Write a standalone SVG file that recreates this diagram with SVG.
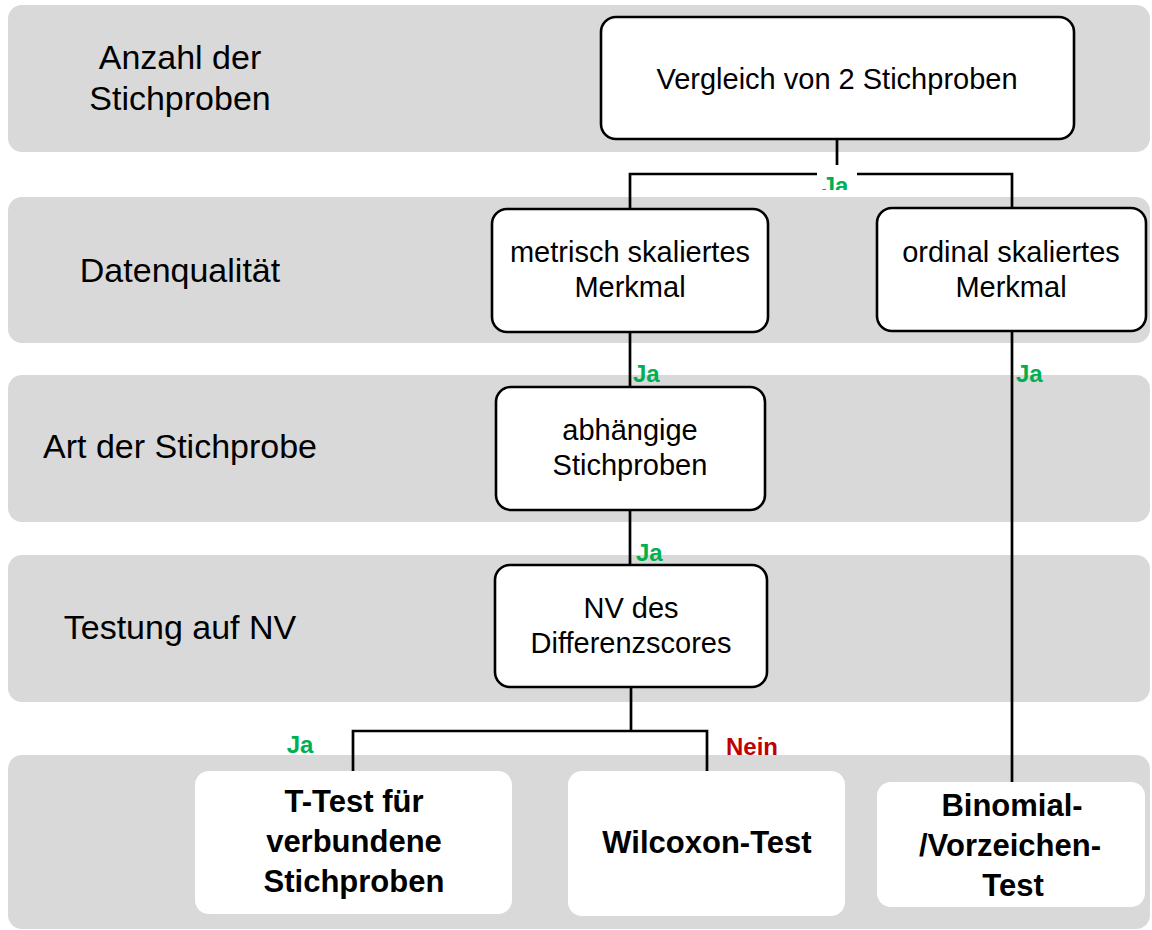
<svg xmlns="http://www.w3.org/2000/svg" width="1152" height="930" viewBox="0 0 1152 930">
<defs>
<style>
.band{fill:#d9d9d9}
.box{fill:#fff;stroke:#000;stroke-width:2.6}
.res{fill:#fff}
.lbl{font-family:"Liberation Sans",Arial,sans-serif;font-size:34px;fill:#000;text-anchor:middle}
.txt{font-family:"Liberation Sans",Arial,sans-serif;font-size:29px;fill:#000;text-anchor:middle}
.bold{font-family:"Liberation Sans",Arial,sans-serif;font-size:31px;font-weight:bold;fill:#000;text-anchor:middle}
.ja{font-family:"Liberation Sans",Arial,sans-serif;font-size:24px;font-weight:bold;fill:#00b050}
.nein{font-family:"Liberation Sans",Arial,sans-serif;font-size:24px;font-weight:bold;fill:#c00000}
.con{fill:none;stroke:#000;stroke-width:2.7}
</style>
<clipPath id="jaclip"><rect x="817" y="165" width="40" height="25"/></clipPath>
</defs>
<rect width="1152" height="930" fill="#fff"/>
<g id="bands">
<rect class="band" x="8" y="5" width="1142" height="147" rx="14"/>
<rect class="band" x="8" y="197" width="1142" height="146" rx="14"/>
<rect class="band" x="8" y="375" width="1142" height="147" rx="14"/>
<rect class="band" x="8" y="555" width="1142" height="147" rx="14"/>
<rect class="band" x="8" y="755" width="1142" height="174" rx="14"/>
</g>
<g id="row-labels">
<text class="lbl" x="180" y="69">Anzahl der</text>
<text class="lbl" x="180" y="110">Stichproben</text>
<text class="lbl" x="180" y="282">Datenqualität</text>
<text class="lbl" x="180" y="458">Art der Stichprobe</text>
<text class="lbl" x="180" y="639">Testung auf NV</text>
</g>
<g id="connectors">
<path class="con" d="M837 139 V174 M630 208 V174 H1012 V208"/>
<path class="con" d="M630 332 V387"/>
<path class="con" d="M1012 331 V782"/>
<path class="con" d="M630 510 V565"/>
<path class="con" d="M631 687 V731 M353 771 V731 H707 V771"/>
</g>
<g id="edge-labels">
<rect x="817" y="165" width="40" height="25" fill="#fff"/>
<text class="ja" x="835" y="194" text-anchor="middle" clip-path="url(#jaclip)">Ja</text>
<text class="ja" x="633" y="382">Ja</text>
<text class="ja" x="1016" y="382">Ja</text>
<text class="ja" x="636" y="561">Ja</text>
<text class="ja" x="300" y="753" text-anchor="middle">Ja</text>
<text class="nein" x="752" y="755" text-anchor="middle">Nein</text>
</g>
<g id="n-vergleich">
<rect class="box" x="601" y="17" width="473" height="122" rx="15"/>
<text class="txt" x="837" y="89">Vergleich von 2 Stichproben</text>
</g>
<g id="n-metrisch">
<rect class="box" x="492" y="209" width="276" height="123" rx="15"/>
<text class="txt" x="630" y="262">metrisch skaliertes</text>
<text class="txt" x="630" y="297">Merkmal</text>
</g>
<g id="n-ordinal">
<rect class="box" x="877" y="208" width="269" height="123" rx="15"/>
<text class="txt" x="1011" y="262">ordinal skaliertes</text>
<text class="txt" x="1011" y="297">Merkmal</text>
</g>
<g id="n-abhaengig">
<rect class="box" x="496" y="387" width="269" height="123" rx="15"/>
<text class="txt" x="630" y="440">abhängige</text>
<text class="txt" x="630" y="475">Stichproben</text>
</g>
<g id="n-nv">
<rect class="box" x="495" y="565" width="272" height="122" rx="15"/>
<text class="txt" x="631" y="618">NV des</text>
<text class="txt" x="631" y="653">Differenzscores</text>
</g>
<g id="n-ttest">
<rect class="res" x="195" y="771" width="317" height="143" rx="14"/>
<text class="bold" x="354" y="812">T-Test für</text>
<text class="bold" x="354" y="852">verbundene</text>
<text class="bold" x="354" y="892">Stichproben</text>
</g>
<g id="n-wilcoxon">
<rect class="res" x="568" y="771" width="277" height="145" rx="14"/>
<text class="bold" x="707" y="853">Wilcoxon-Test</text>
</g>
<g id="n-binomial">
<rect class="res" x="877" y="782" width="268" height="125" rx="14"/>
<text class="bold" x="1012" y="816">Binomial-</text>
<text class="bold" x="1010" y="856">/Vorzeichen-</text>
<text class="bold" x="1013" y="896">Test</text>
</g>
</svg>
